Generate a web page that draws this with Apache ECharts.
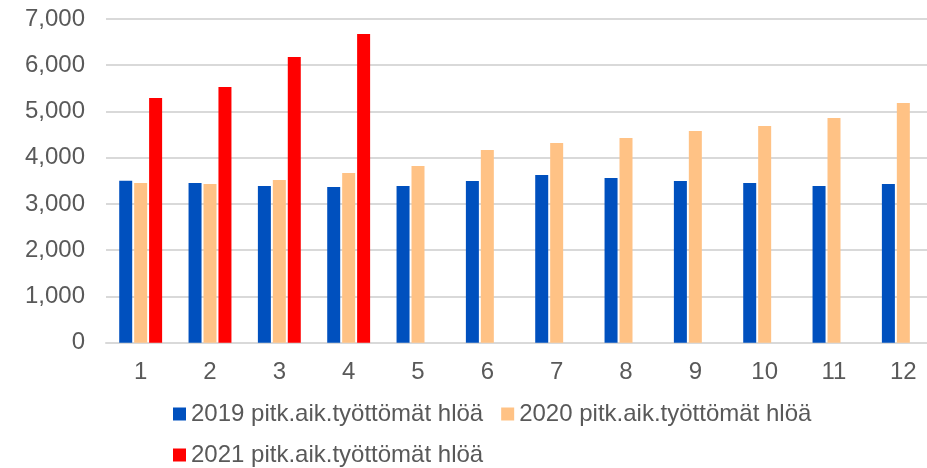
<!DOCTYPE html>
<html>
<head>
<meta charset="utf-8">
<script src="https://cdn.jsdelivr.net/npm/echarts@6/dist/echarts.min.js"></script>
<style>
html,body{margin:0;padding:0;background:#fff;}
#chart{width:927px;height:468px;}
</style>
</head>
<body>
<div id="chart"></div>
<script>
var categories = ['1','2','3','4','5','6','7','8','9','10','11','12'];
var seriesNames = ['2019 pitk.aik.työttömät hlöä','2020 pitk.aik.työttömät hlöä','2021 pitk.aik.työttömät hlöä'];
var values2019 = [3500, 3455, 3390, 3365, 3390, 3495, 3625, 3560, 3495, 3455, 3390, 3430];
var values2020 = [3455, 3430, 3520, 3670, 3820, 4165, 4320, 4425, 4580, 4685, 4860, 5185];
var values2021 = [5290, 5530, 6180, 6675, null, null, null, null, null, null, null, null];
var yTicks = [0, 1000, 2000, 3000, 4000, 5000, 6000, 7000];

var FONT = '"Liberation Sans", Arial, sans-serif';
var TXT = '#595959';
var colors = ['#0050BE', '#FFC285', '#FF0000'];

var chart = echarts.init(document.getElementById('chart'), null, {renderer:'canvas'});
function fmt(v){ return String(v).replace(/\B(?=(\d{3})+(?!\d))/g, ','); }

var option = {
  animation: false,
  color: colors,
  textStyle: {fontFamily: FONT},
  grid: {left: 106, top: 19, width: 832, height: 323.7, containLabel: false, outerBoundsMode: 'none'},
  legend: [
    {data: [seriesNames[0], seriesNames[1]], left: 173, top: 402, padding: 0, itemWidth: 13, itemHeight: 13, itemGap: 18,
     icon: 'rect', textStyle: {fontSize: 24, color: TXT, fontFamily: FONT}},
    {data: [seriesNames[2]], left: 173, top: 443, padding: 0, itemWidth: 13, itemHeight: 13, itemGap: 18,
     icon: 'rect', textStyle: {fontSize: 24, color: TXT, fontFamily: FONT}}
  ],
  xAxis: {
    type: 'category', data: categories,
    axisLine: {lineStyle: {color: '#d9d9d9', width: 2}},
    axisTick: {show: false},
    axisLabel: {fontSize: 24, color: TXT, margin: 18, fontFamily: FONT}
  },
  yAxis: {
    type: 'value', min: yTicks[0], max: yTicks[yTicks.length-1], interval: 1000,
    axisLine: {show: false}, axisTick: {show: false},
    splitLine: {lineStyle: {color: '#d9d9d9', width: 2}},
    axisLabel: {fontSize: 24, color: TXT, margin: 21, fontFamily: FONT, formatter: fmt}
  },
  series: [
    {name: seriesNames[0], type: 'bar', data: values2019, barWidth: 13, barGap: '15%'},
    {name: seriesNames[1], type: 'bar', data: values2020, barWidth: 13, barGap: '15%'},
    {name: seriesNames[2], type: 'bar', data: values2021, barWidth: 13, barGap: '15%'}
  ]
};
chart.setOption(option);
</script>
</body>
</html>
